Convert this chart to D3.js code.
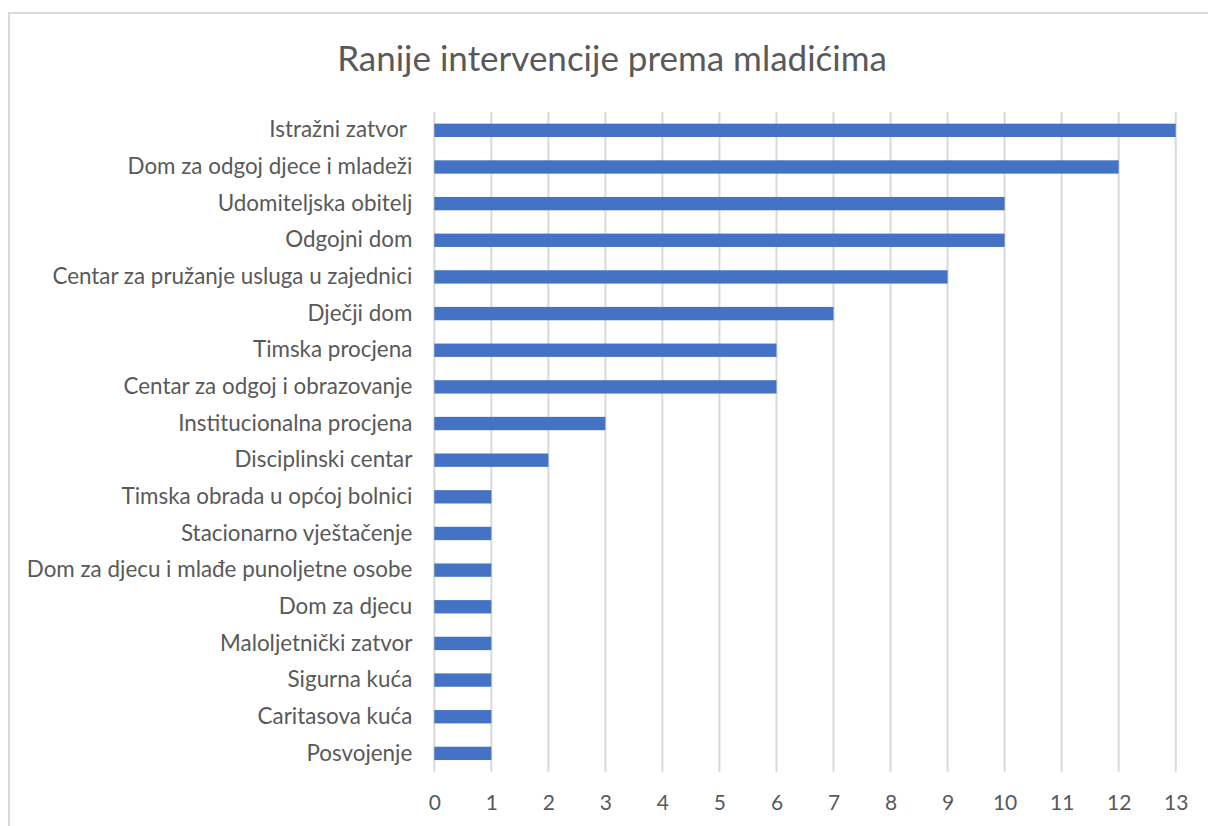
<!DOCTYPE html>
<html>
<head>
<meta charset="utf-8">
<script src="https://cdn.jsdelivr.net/npm/d3@7"></script>
<style>
  body { margin: 0; background: #fff; }
  text { font-family: Lato, "Open Sans", sans-serif; fill: #595959; }
</style>
</head>
<body>
<div id="chart"></div>
<script>
// categories, top to bottom
var categories = [
  "Istražni zatvor ",
  "Dom za odgoj djece i mladeži",
  "Udomiteljska obitelj",
  "Odgojni dom",
  "Centar za pružanje usluga u zajednici",
  "Dječji dom",
  "Timska procjena",
  "Centar za odgoj i obrazovanje",
  "Institucionalna procjena",
  "Disciplinski centar",
  "Timska obrada u općoj bolnici",
  "Stacionarno vještačenje",
  "Dom za djecu i mlađe punoljetne osobe",
  "Dom za djecu",
  "Maloljetnički zatvor",
  "Sigurna kuća",
  "Caritasova kuća",
  "Posvojenje"
];
var values = [13, 12, 10, 10, 9, 7, 6, 6, 3, 2, 1, 1, 1, 1, 1, 1, 1, 1];
var xTicks = d3.range(0, 14);
var title = "Ranije intervencije prema mladićima";

var W = 1208, H = 826;
var plotLeft = 434.3, plotRight = 1175.7, plotTop = 112, plotBottom = 771.7;

var svg = d3.select("#chart").append("svg")
    .attr("width", W)
    .attr("height", H);

// chart border
svg.append("rect")
    .attr("x", 9).attr("y", 13)
    .attr("width", W + 20).attr("height", H + 20)
    .attr("fill", "none")
    .attr("stroke", "#d9d9d9")
    .attr("stroke-width", 2);

var x = d3.scaleLinear().domain([0, 13]).range([plotLeft, plotRight]);
var y = d3.scaleBand().domain(categories).range([plotTop, plotBottom])
    .paddingInner(0.636).paddingOuter(0.318);

// gridlines
svg.append("g").selectAll("line")
    .data(xTicks)
    .enter().append("line")
    .attr("x1", function(d) { return x(d); })
    .attr("x2", function(d) { return x(d); })
    .attr("y1", plotTop)
    .attr("y2", plotBottom)
    .attr("stroke", "#d9d9d9")
    .attr("stroke-width", 2);

// bars
svg.append("g").selectAll("rect")
    .data(values)
    .enter().append("rect")
    .attr("x", x(0))
    .attr("y", function(d, i) { return y(categories[i]); })
    .attr("width", function(d) { return x(d) - x(0); })
    .attr("height", y.bandwidth())
    .attr("fill", "#4472c4");

// x axis labels
var xAxis = d3.axisBottom(x).tickValues(xTicks).tickSize(0).tickPadding(0);
var gx = svg.append("g")
    .attr("transform", "translate(0," + plotBottom + ")")
    .call(xAxis);
gx.select(".domain").remove();
gx.selectAll("text")
    .attr("y", 31)
    .attr("dy", "0.35em")
    .style("font-size", "21px")
    .style("font-family", "Lato, sans-serif")
    .style("fill", "#595959");

// category labels
var yAxis = d3.axisLeft(y).tickSize(0).tickPadding(22);
var gy = svg.append("g")
    .attr("transform", "translate(" + plotLeft + ",0)")
    .call(yAxis);
gy.select(".domain").remove();
gy.selectAll("text")
    .style("font-size", "22.4px")
    .style("font-family", "Lato, sans-serif")
    .style("white-space", "pre")
    .style("fill", "#595959");

// title
svg.append("text")
    .attr("x", 612)
    .attr("y", 59)
    .attr("dy", "0.35em")
    .attr("text-anchor", "middle")
    .style("font-size", "35px")
    .text(title);
</script>
</body>
</html>
